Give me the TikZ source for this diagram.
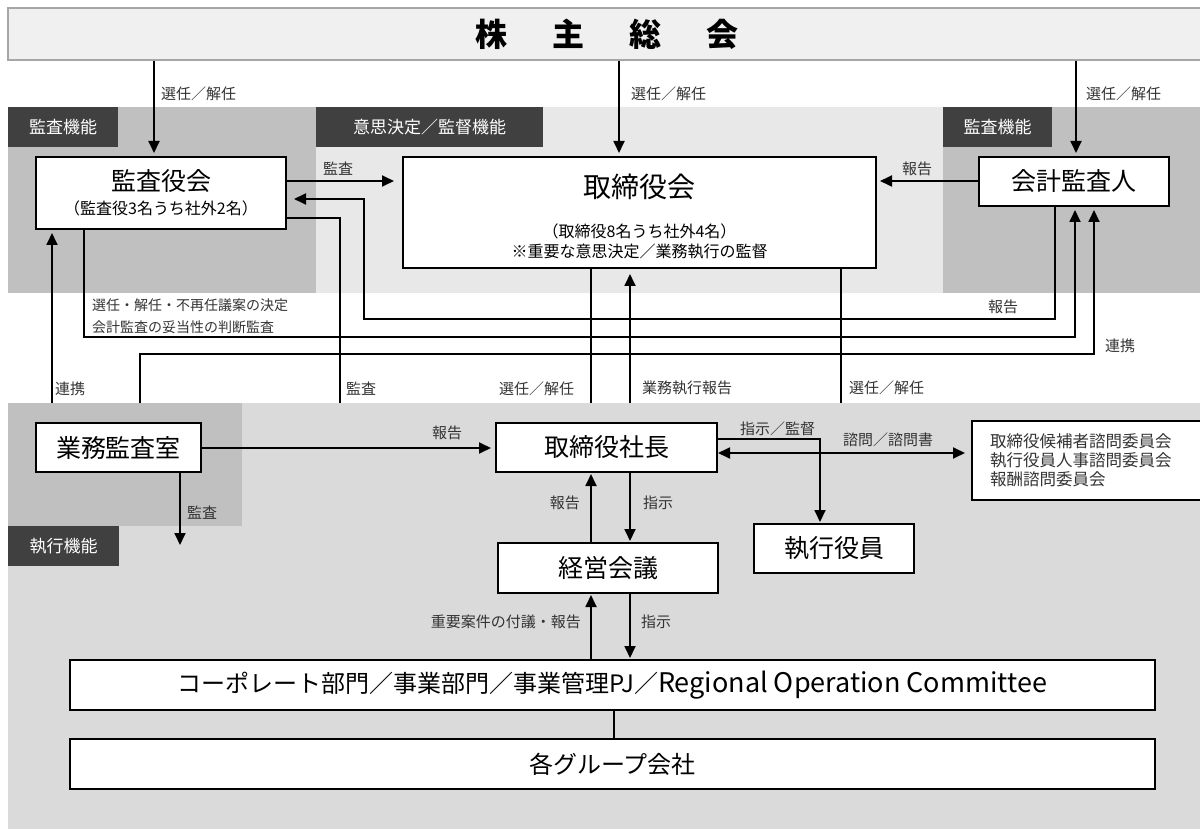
\documentclass[tikz,border=0pt]{standalone}
\usepackage{fontspec}
\setmainfont{Noto Sans CJK JP}
\usepackage{tikz}
\usetikzlibrary{arrows.meta}
\pgfdeclarelayer{bg}
\pgfdeclarelayer{links}
\pgfdeclarelayer{exec}
\pgfsetlayers{bg,links,exec,main}
\definecolor{bargray}{HTML}{F0F0F0}
\definecolor{barline}{HTML}{A6A6A6}
\definecolor{midgray}{HTML}{E8E8E8}
\definecolor{dkgray}{HTML}{C0C0C0}
\definecolor{exgray}{HTML}{DADADA}
\definecolor{tagdark}{HTML}{404040}
\definecolor{txtgray}{HTML}{333333}
\newcommand{\fsBig}{\fontsize{25}{30}\selectfont}
\newcommand{\fsHuge}{\fontsize{28}{34}\selectfont}
\newcommand{\fsSub}{\fontsize{16}{20}\selectfont}
\tikzset{
  box/.style={draw=black, line width=2pt, fill=white, inner sep=0pt, align=center, text=black},
  tag/.style={fill=tagdark, text=white, inner sep=0pt, anchor=north west,
    minimum height=40pt, font=\fontsize{17}{20}\selectfont},
  lbl/.style={anchor=west, inner sep=0pt, text=txtgray, font=\fontsize{15}{18}\selectfont},
  arr/.style={line width=1.8pt, -{Triangle[length=12pt,width=11pt]}, shorten >=3pt},
  link/.style={line width=1.8pt},
}
\begin{document}
\begin{tikzpicture}[x=1pt,y=-1pt]
        \useasboundingbox (0,0) rectangle (1200,829);
        % bands
        \begin{pgfonlayer}{bg}
                \fill[midgray] (316,107) rectangle (943,293);
                \fill[dkgray] (8,107) rectangle (316,293);
                \fill[dkgray] (943,107) rectangle (1206,293);
                \node (t1) [tag, minimum width=110pt] at (8,107) {監査機能};
                \node (t2) [tag, minimum width=227pt] at (316,107) {意思決定／監督機能};
                \node (t3) [tag, minimum width=109pt] at (943,107) {監査機能};
        \end{pgfonlayer}
        \begin{pgfonlayer}{exec}
                \fill[exgray] (8,403) rectangle (1206,829);
                \fill[dkgray] (8,403) rectangle (242,526);
                \node (t4) [tag, minimum width=111pt] at (8,526) {執行機能};
        \end{pgfonlayer}
        % boxes
        \node (sh) [draw=barline, line width=1.5pt, fill=bargray, minimum width=1198pt, minimum height=52pt,
                font=\bfseries\fontsize{32}{36}\selectfont] at (607,34)
                {株\hspace{45pt}主\hspace{45pt}総\hspace{45pt}会};
        \node (ka) [box, minimum width=250pt, minimum height=72pt, font=\fsSub] at (161,193)
                {{\fsBig 監査役会}\\[4pt]（監査役3名うち社外2名）};
        \node (tb) [box, minimum width=473pt, minimum height=111pt, font=\fsSub] at (639.5,212.5)
                {{\fsHuge\rule{0pt}{32pt}取締役会}\\[20pt]（取締役8名うち社外4名）\\※重要な意思決定／業務執行の監督};
        \node (kk) [box, minimum width=190pt, minimum height=49pt, font=\fsBig] at (1074,181.5) {会計監査人};
        \node (gk) [box, minimum width=165pt, minimum height=49pt, font=\fsBig] at (118.5,447.5) {業務監査室};
        \node (sc) [box, minimum width=221pt, minimum height=49pt, font=\fsBig] at (606.5,447.5) {取締役社長};
        \node (kc) [box, minimum width=220pt, minimum height=50pt, font=\fsBig] at (608,568) {経営会議};
        \node (sy) [box, minimum width=160pt, minimum height=49pt, font=\fsBig] at (834,548.5) {執行役員};
        \node (sm) [box, minimum width=232pt, minimum height=79pt, align=left, inner xsep=18pt, text width=196pt,
                font=\fontsize{16.5}{19}\selectfont, text=txtgray] at (1088,460.5)
                {取締役候補者諮問委員会\\執行役員人事諮問委員会\\報酬諮問委員会};
        \node (bu) [box, minimum width=1085pt, minimum height=50pt, font=\fontsize{24}{28}\selectfont] at (612.5,685)
                {コーポレート部門／事業部門／事業管理PJ／{\fontsize{27}{30}\selectfont Regional Operation Committee}};
        \node (gr) [box, minimum width=1085pt, minimum height=50pt, font=\fontsize{24}{28}\selectfont] at (612.5,764)
                {各グループ会社};
        \coordinate (ex) at (340,415);
        \coordinate (gx) at (180,545);
        % connectors running under the executive band
        \begin{pgfonlayer}{links}
                \draw [arr] (gk.north -| 52,0) -- (ka.south -| 52,0);
                \draw [arr] (gk.north -| 140,0) |- (1094,354) -- (kk.south -| 1094,0);
                \draw [link] (ka.east |- 0,218) -| (ex);
                \draw [link] (tb.south -| 591,0) -- (sc.north -| 591,0);
                \draw [arr, shorten >=5pt] (sc.north -| 630,0) -- (tb.south -| 630,0);
                \draw [link] (tb.south -| 841,0) -- (sy.north -| 841,0);
        \end{pgfonlayer}
        \draw [arr] (sh.south -| 154,0) -- (ka.north -| 154,0);
        \draw [arr] (sh.south -| 619,0) -- (tb.north -| 619,0);
        \draw [arr] (sh.south -| 1076,0) -- (kk.north -| 1076,0);
        \draw [arr, shorten >=8pt] (ka.east |- 0,181) -- (tb.west |- 0,181);
        \draw [arr] (kk.west |- 0,181) -- (tb.east |- 0,181);
        \draw [arr, shorten >=7pt] (kk.south -| 1055,0) |- (364,319) |- (ka.east |- 0,199);
        \draw [arr] (ka.south -| 84,0) |- (1075,337) -- (kk.south -| 1075,0);
        \draw [arr, shorten >=4pt] (gk.east |- 0,448) -- (sc.west |- 0,448);
        \draw [arr, shorten >=0pt] (gk.south -| 180,0) -- (gx);
        \draw [arr, shorten >=6pt, shorten <=0pt, {Triangle[length=12pt,width=11pt]}-{Triangle[length=12pt,width=11pt]}]
                (sc.east |- 0,453) -- (sm.west |- 0,453);
        \draw [arr, shorten >=1pt] (sc.east |- 0,439) -| (sy.north -| 820,0);
        \draw [arr, shorten >=1pt] (sc.south -| 630,0) -- (kc.north -| 630,0);
        \draw [arr, shorten >=1pt] (kc.north -| 591,0) -- (sc.south -| 591,0);
        \draw [arr, shorten >=1pt] (bu.north -| 591,0) -- (kc.south -| 591,0);
        \draw [arr, shorten >=1pt] (kc.south -| 630,0) -- (bu.north -| 630,0);
        \draw [line width=1.5pt] (bu.south -| 614,0) -- (gr.north -| 614,0);
        % labels
        \node (l1) [lbl] at (161,94) {選任／解任};
        \node (l2) [lbl] at (631,94) {選任／解任};
        \node (l3) [lbl] at (1086,94) {選任／解任};
        \node (l4) [lbl] at (323,169) {監査};
        \node (l5) [lbl] at (902,169) {報告};
        \node (l6) [lbl] at (988,307) {報告};
        \node (l7) [lbl, align=left, font=\fontsize{14}{22}\selectfont] at (92,316)
                {選任・解任・不再任議案の決定\\会計監査の妥当性の判断監査};
        \node (l8) [lbl] at (1105,346) {連携};
        \node (l9) [lbl] at (55,389) {連携};
        \node (l10) [lbl] at (346,389) {監査};
        \node (l11) [lbl] at (499,389) {選任／解任};
        \node (l12) [lbl] at (642,388) {業務執行報告};
        \node (l13) [lbl] at (849,388) {選任／解任};
        \node (l14) [lbl] at (432,433) {報告};
        \node (l15) [lbl] at (740,429) {指示／監督};
        \node (l16) [lbl] at (843,440) {諮問／諮問書};
        \node (l17) [lbl] at (187,513) {監査};
        \node (l18) [lbl, anchor=east] at (580,503) {報告};
        \node (l19) [lbl] at (643,503) {指示};
        \node (l20) [lbl, anchor=east] at (581,622) {重要案件の付議・報告};
        \node (l21) [lbl] at (641,622) {指示};
\end{tikzpicture}
\end{document}
